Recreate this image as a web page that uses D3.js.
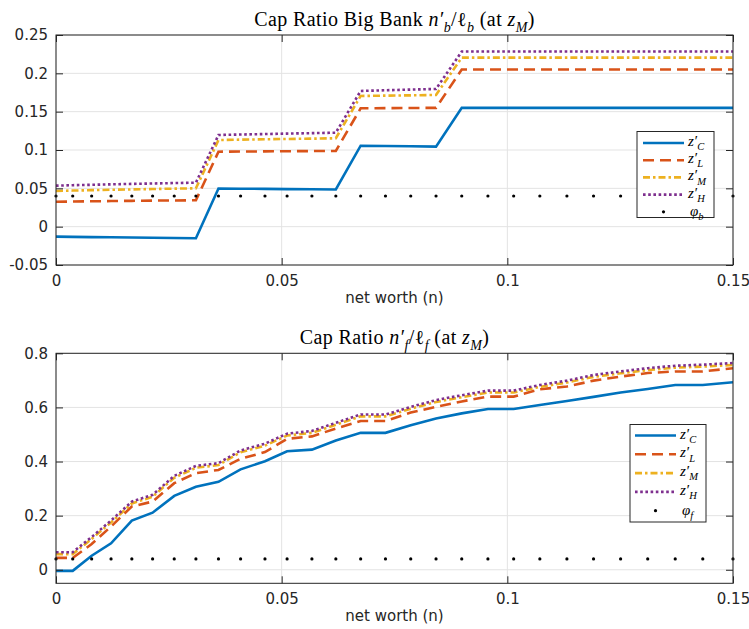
<!DOCTYPE html>
<html>
<head>
  <script src="https://d3js.org/d3.v7.min.js"></script>
  <style>
    body {
      margin: 0;
      background-color: #fff;
    }
    .tick text, .x-label {
      font-family: "DejaVu Sans", sans-serif;
      font-size: 15px;
      fill: #262626;
    }
    .math {
      font-family: "Liberation Serif", serif;
      fill: #000;
    }
    .grid-line {
      stroke: #e3e3e3;
      stroke-width: 1px;
    }
    .line {
      fill: none;
      stroke-width: 2.6px;
    }
  </style>
</head>
<body>
  <div id="chart"></div>
  <script>
    // grid of net worth values (x)
    const nGrid = [0, 0.0037, 0.0079, 0.0122, 0.0168, 0.0214, 0.0262, 0.0310, 0.0360, 0.0409,
      0.0463, 0.0512, 0.0567, 0.0620, 0.0675, 0.0730, 0.0786, 0.0842, 0.0899, 0.0957,
      0.1014, 0.1072, 0.1132, 0.1191, 0.1251, 0.1311, 0.1372, 0.1433, 0.15];

    // Top panel: big bank cap ratio
    const bigC = [-0.0130, -0.0133, -0.0136, -0.0139, -0.0142, -0.0145, -0.0148, -0.0151,
      0.0497, 0.0495, 0.0493, 0.0490, 0.0488, 0.0485,
      0.1056, 0.1052, 0.1048, 0.1044,
      0.155, 0.155, 0.155, 0.155, 0.155, 0.155, 0.155, 0.155, 0.155, 0.155, 0.155];
    const bigL = [0.0325, 0.0328, 0.0331, 0.0334, 0.0337, 0.0340, 0.0342, 0.0344,
      0.0978, 0.0980, 0.0982, 0.0984, 0.0986, 0.0988,
      0.1544, 0.1546, 0.1548, 0.1550,
      0.205, 0.205, 0.205, 0.205, 0.205, 0.205, 0.205, 0.205, 0.205, 0.205, 0.205];
    const bigM = [0.0466, 0.0471, 0.0476, 0.0481, 0.0486, 0.0491, 0.0496, 0.0500,
      0.1130, 0.1135, 0.1140, 0.1144, 0.1148, 0.1153,
      0.1705, 0.1709, 0.1713, 0.1718,
      0.2205, 0.2205, 0.2205, 0.2205, 0.2205, 0.2205, 0.2205, 0.2205, 0.2205, 0.2205, 0.2205];
    const bigH = [0.0535, 0.0541, 0.0546, 0.0552, 0.0558, 0.0563, 0.0569, 0.0574,
      0.1196, 0.1202, 0.1208, 0.1214, 0.1220, 0.1226,
      0.1770, 0.1779, 0.1788, 0.1796,
      0.2285, 0.2285, 0.2285, 0.2285, 0.2285, 0.2285, 0.2285, 0.2285, 0.2285, 0.2285, 0.2285];
    const phiB = 0.04;

    // Bottom panel: fringe bank cap ratio
    const fringeC = [-0.004, -0.004, 0.052, 0.098, 0.182, 0.211, 0.273, 0.307, 0.325, 0.371,
      0.401, 0.438, 0.444, 0.478, 0.506, 0.506, 0.534, 0.559, 0.578, 0.594,
      0.594, 0.609, 0.624, 0.639, 0.655, 0.668, 0.683, 0.683, 0.693];
    const fringeL = [0.044, 0.044, 0.095, 0.160, 0.234, 0.252, 0.320, 0.357, 0.369, 0.410,
      0.435, 0.484, 0.493, 0.522, 0.550, 0.550, 0.581, 0.602, 0.622, 0.640,
      0.640, 0.667, 0.677, 0.699, 0.714, 0.727, 0.733, 0.733, 0.745];
    const fringeM = [0.058, 0.058, 0.114, 0.175, 0.245, 0.270, 0.340, 0.377, 0.387, 0.434,
      0.459, 0.496, 0.506, 0.536, 0.567, 0.567, 0.595, 0.620, 0.638, 0.655,
      0.655, 0.676, 0.692, 0.713, 0.726, 0.738, 0.747, 0.751, 0.757];
    const fringeH = [0.065, 0.065, 0.121, 0.182, 0.252, 0.277, 0.347, 0.384, 0.394, 0.441,
      0.466, 0.503, 0.513, 0.543, 0.574, 0.574, 0.602, 0.627, 0.645, 0.662,
      0.662, 0.683, 0.699, 0.720, 0.733, 0.745, 0.754, 0.758, 0.764];
    const phiF = 0.04;

    const xTicks = [0, 0.05, 0.1, 0.15];
    const yTicksTop = [-0.05, 0, 0.05, 0.1, 0.15, 0.2, 0.25];
    const yTicksBottom = [0, 0.2, 0.4, 0.6, 0.8];
    const seriesSubs = ["C", "L", "M", "H"];
    const xLabel = "net worth (n)";

    // styles for z'_C, z'_L, z'_M, z'_H
    const seriesStyle = [
      { color: "#0072BD", dash: null },
      { color: "#D95319", dash: "11,6" },
      { color: "#EDB120", dash: "7,3,2.5,3" },
      { color: "#7E2F8E", dash: "2.6,2.6" }
    ];

    const width = 749, height = 629;
    const svg = d3.select("#chart")
      .append("svg")
      .attr("width", width)
      .attr("height", height);

    // append tspans with italic / sub parts
    function richText(sel, parts, size) {
      let shift = 0;
      parts.forEach(p => {
        const target = p.pos === "sub" ? size * 0.28 : 0;
        const ts = sel.append("tspan").attr("dy", target - shift).text(p.t);
        shift = target;
        if (p.pos) ts.attr("font-size", size * 0.7);
        if (p.it) ts.attr("font-style", "italic");
      });
    }

    const panels = [
      {
        top: 35, bottom: 265, yDomain: [-0.05, 0.25], yTicks: yTicksTop,
        series: [bigC, bigL, bigM, bigH], phi: phiB, phiSub: "b",
        title: [{ t: "Cap Ratio Big Bank " }, { t: "n′", it: 1 }, { t: "b", it: 1, pos: "sub" },
          { t: "/ℓ" }, { t: "b", it: 1, pos: "sub" },
          { t: " (at " }, { t: "z", it: 1 }, { t: "M", it: 1, pos: "sub" }, { t: ")" }],
        legend: { x: 637, y: 131.5, w: 77, h: 86, x0: 643, x1: 684, tx: 688, y0: 143, dy: 17.2 }
      },
      {
        top: 353.3, bottom: 583.3, yDomain: [-0.05, 0.8], yTicks: yTicksBottom,
        series: [fringeC, fringeL, fringeM, fringeH], phi: phiF, phiSub: "f",
        title: [{ t: "Cap Ratio " }, { t: "n′", it: 1 }, { t: "f", it: 1, pos: "sub" },
          { t: "/ℓ" }, { t: "f", it: 1, pos: "sub" },
          { t: " (at " }, { t: "z", it: 1 }, { t: "M", it: 1, pos: "sub" }, { t: ")" }],
        legend: { x: 630, y: 424.5, w: 76, h: 97.5, x0: 635, x1: 676, tx: 680, y0: 435.5, dy: 18.8 }
      }
    ];

    const left = 56, right = 733;

    panels.forEach((p, pi) => {
      const x = d3.scaleLinear().domain([0, 0.15]).range([left, right]);
      const y = d3.scaleLinear().domain(p.yDomain).range([p.bottom, p.top]);
      const g = svg.append("g");

      // background + grid
      g.append("rect").attr("x", left).attr("y", p.top)
        .attr("width", right - left).attr("height", p.bottom - p.top).attr("fill", "#fff");
      g.selectAll(".gx").data(xTicks).enter().append("line").attr("class", "grid-line")
        .attr("x1", d => x(d)).attr("x2", d => x(d)).attr("y1", p.top).attr("y2", p.bottom);
      g.selectAll(".gy").data(p.yTicks).enter().append("line").attr("class", "grid-line")
        .attr("x1", left).attr("x2", right).attr("y1", d => y(d)).attr("y2", d => y(d));

      // clip
      const clipId = "clip" + pi;
      svg.append("clipPath").attr("id", clipId).append("rect")
        .attr("x", left).attr("y", p.top).attr("width", right - left).attr("height", p.bottom - p.top);

      // lines
      p.series.forEach((vals, si) => {
        const line = d3.line().x((d, i) => x(nGrid[i])).y(d => y(d));
        g.append("path")
          .datum(vals)
          .attr("class", "line")
          .attr("clip-path", `url(#${clipId})`)
          .attr("stroke", seriesStyle[si].color)
          .attr("stroke-dasharray", seriesStyle[si].dash)
          .attr("d", line);
      });

      // phi dots
      g.selectAll(".phi").data(nGrid).enter().append("circle")
        .attr("cx", d => x(d)).attr("cy", y(p.phi)).attr("r", 1.6).attr("fill", "#000");

      // axes (ticks inward, box)
      const axL = g.append("g").attr("transform", `translate(${left},0)`)
        .call(d3.axisLeft(y).tickValues(p.yTicks).tickSize(-7).tickPadding(8).tickFormat(d => String(d)));
      const axB = g.append("g").attr("transform", `translate(0,${p.bottom})`)
        .call(d3.axisBottom(x).tickValues(xTicks).tickSize(-7).tickPadding(10).tickFormat(d => String(d)));
      const axR = g.append("g").attr("transform", `translate(${right},0)`)
        .call(d3.axisRight(y).tickValues(p.yTicks).tickSize(-7).tickFormat(""));
      const axT = g.append("g").attr("transform", `translate(0,${p.top})`)
        .call(d3.axisTop(x).tickValues(xTicks).tickSize(-7).tickFormat(""));
      [axL, axB, axR, axT].forEach(a => {
        a.select(".domain").remove();
        a.selectAll(".tick line").attr("stroke", "#262626");
        a.attr("font-family", null).attr("font-size", null);
      });
      g.append("rect").attr("x", left).attr("y", p.top)
        .attr("width", right - left).attr("height", p.bottom - p.top)
        .attr("fill", "none").attr("stroke", "#262626").attr("stroke-width", 1);

      // x label
      g.append("text").attr("class", "x-label")
        .attr("x", (left + right) / 2).attr("y", p.bottom + 38)
        .attr("text-anchor", "middle").text(xLabel);

      // title
      const title = g.append("text").attr("class", "math")
        .attr("x", (left + right) / 2).attr("y", p.top - 9)
        .attr("text-anchor", "middle").attr("font-size", 20)
        .attr("letter-spacing", "0.4px");
      richText(title, p.title, 20);

      // legend
      const L = p.legend;
      const lg = g.append("g");
      lg.append("rect").attr("x", L.x).attr("y", L.y).attr("width", L.w).attr("height", L.h)
        .attr("fill", "#fff").attr("stroke", "#262626").attr("stroke-width", 1);
      seriesSubs.forEach((s, si) => {
        const yy = L.y0 + si * L.dy;
        lg.append("line").attr("x1", L.x0).attr("x2", L.x1).attr("y1", yy).attr("y2", yy)
          .attr("stroke", seriesStyle[si].color).attr("stroke-width", 2.6)
          .attr("stroke-dasharray", seriesStyle[si].dash);
        const t = lg.append("text").attr("class", "math").attr("x", L.tx).attr("y", yy + 3)
          .attr("font-size", 15);
        richText(t, [{ t: "z′", it: 1 }, { t: s, it: 1, pos: "sub" }], 15);
      });
      const yPhi = L.y0 + 4 * L.dy;
      lg.append("circle").attr("cx", (L.x0 + L.x1) / 2).attr("cy", yPhi).attr("r", 1.6).attr("fill", "#000");
      const tp = lg.append("text").attr("class", "math").attr("x", L.tx + 2).attr("y", yPhi + 4)
        .attr("font-size", 15);
      richText(tp, [{ t: "φ", it: 1 }, { t: p.phiSub, it: 1, pos: "sub" }], 15);
    });
  </script>
</body>
</html>
